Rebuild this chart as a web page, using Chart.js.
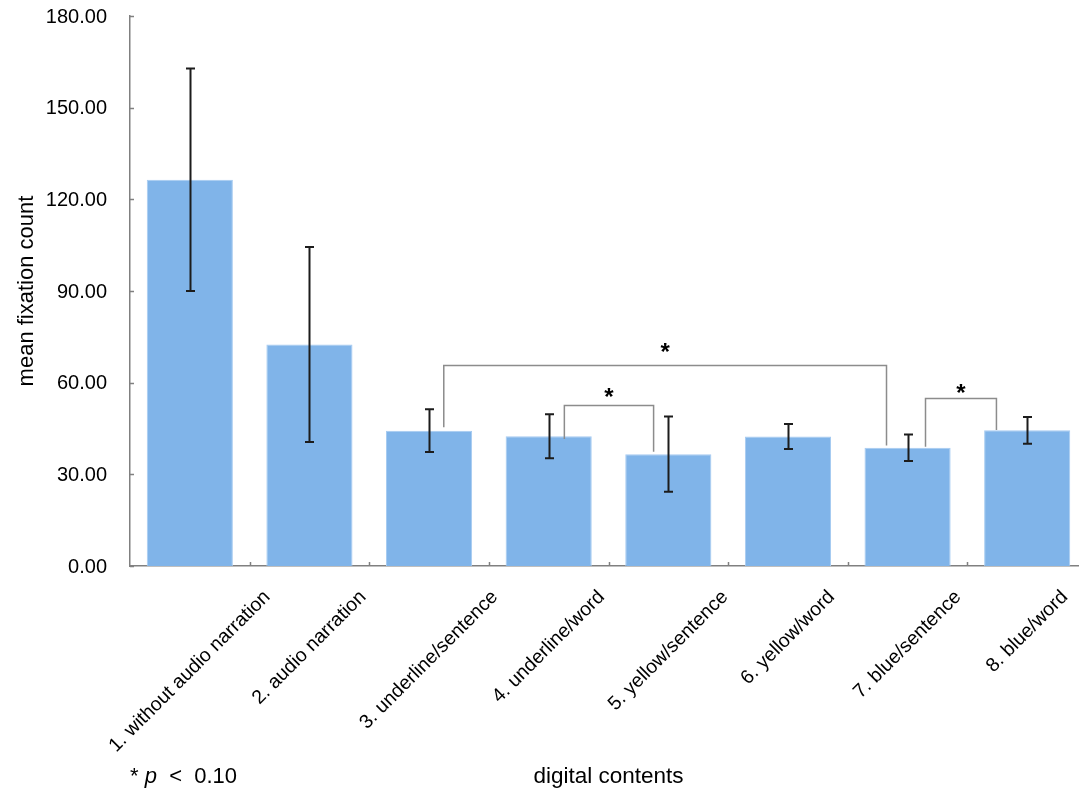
<!DOCTYPE html>
<html>
<head>
<meta charset="utf-8">
<script src="https://cdn.jsdelivr.net/npm/chart.js@4.4.0/dist/chart.umd.min.js"></script>
<style>
  html, body { margin: 0; padding: 0; background: #ffffff; overflow: hidden; }
  #wrap { position: relative; width: 1100px; height: 791px; }
</style>
</head>
<body>
<div id="wrap"><canvas id="chart"></canvas></div>
<script>
// Mean fixation count per digital content condition
const categories = [
  '1. without audio narration',
  '2. audio narration',
  '3. underline/sentence',
  '4. underline/word',
  '5. yellow/sentence',
  '6. yellow/word',
  '7. blue/sentence',
  '8. blue/word'
];
const meanFixations = [126.4, 72.5, 44.3, 42.5, 36.6, 42.4, 38.7, 44.4];
const errorMargins  = [36.4, 31.9, 7.0, 7.2, 12.3, 4.1, 4.3, 4.4];
const yTickValues   = [0, 30, 60, 90, 120, 150, 180];
const yTickLabels   = ['0.00', '30.00', '60.00', '90.00', '120.00', '150.00', '180.00'];

// Significance brackets: compared groups (0-based), bar level, leg end levels, star level
const bracketPairs      = [[2, 6], [3, 4], [6, 7]];
const bracketLevels     = [65.8, 52.8, 55.1];
const bracketLegEnds    = [[45.4, 39.4], [41.6, 37.4], [39.0, 44.5]];
const bracketStarLevels = [71.8, 57.1, 58.5];

const FONT = '"Liberation Sans", Arial, Helvetica, sans-serif';

const annotations = {
  id: 'annotations',
  afterDatasetsDraw(chart, args, opts) {
    const { ctx, scales: { x, y } } = chart;
    const catW = x.width / categories.length;
    ctx.save();

    // error bars
    ctx.strokeStyle = '#1c1c1c';
    ctx.lineWidth = 2;
    meanFixations.forEach((m, i) => {
      const cx = Math.round(x.getPixelForValue(i)) + 0.5;
      const yt = y.getPixelForValue(m + errorMargins[i]);
      const yb = y.getPixelForValue(m - errorMargins[i]);
      ctx.beginPath();
      ctx.moveTo(cx, yt); ctx.lineTo(cx, yb);
      ctx.moveTo(cx - opts.capHalf, yt); ctx.lineTo(cx + opts.capHalf, yt);
      ctx.moveTo(cx - opts.capHalf, yb); ctx.lineTo(cx + opts.capHalf, yb);
      ctx.stroke();
    });

    // significance brackets
    ctx.strokeStyle = '#8c8c8c';
    ctx.lineWidth = 1.5;
    bracketPairs.forEach((pair, k) => {
      const off = opts.legOffsets[k];
      const x1 = x.getPixelForValue(pair[0]) + off[0] * catW;
      const x2 = x.getPixelForValue(pair[1]) + off[1] * catW;
      const yl = Math.round(y.getPixelForValue(bracketLevels[k])) + 0.5;
      ctx.beginPath();
      ctx.moveTo(x1, y.getPixelForValue(bracketLegEnds[k][0]));
      ctx.lineTo(x1, yl);
      ctx.lineTo(x2, yl);
      ctx.lineTo(x2, y.getPixelForValue(bracketLegEnds[k][1]));
      ctx.stroke();

      ctx.fillStyle = '#000';
      ctx.font = 'bold 24px ' + FONT;
      ctx.textAlign = 'center';
      ctx.textBaseline = 'alphabetic';
      ctx.fillText('*', (x1 + x2) / 2, y.getPixelForValue(bracketStarLevels[k]) + 13.5);
    });
    ctx.restore();
  },
  afterDraw(chart, args, opts) {
    const { ctx, chartArea, scales: { x, y } } = chart;
    const catW = x.width / categories.length;
    ctx.save();

    // inward tick marks
    ctx.strokeStyle = '#808080';
    ctx.lineWidth = 1.5;
    ctx.beginPath();
    yTickValues.forEach(v => {
      const py = Math.round(y.getPixelForValue(v)) + 0.5;
      ctx.moveTo(chartArea.left, py); ctx.lineTo(chartArea.left + 4, py);
    });
    for (let i = 0; i < categories.length; i++) {
      const px = Math.round(x.getPixelForValue(i) + catW / 2) + 0.5;
      ctx.moveTo(px, chartArea.bottom); ctx.lineTo(px, chartArea.bottom - 4);
    }
    ctx.stroke();

    // value labels on the y axis
    ctx.fillStyle = '#000';
    ctx.font = '20px ' + FONT;
    ctx.textAlign = 'right';
    ctx.textBaseline = 'middle';
    yTickValues.forEach((v, i) => {
      ctx.fillText(yTickLabels[i], chartArea.left - 23, y.getPixelForValue(v) + 1);
    });

    // rotated category labels
    ctx.font = '19.5px ' + FONT;
    ctx.textAlign = 'right';
    ctx.textBaseline = 'middle';
    categories.forEach((lab, i) => {
      const cx = x.getPixelForValue(i);
      const L = ctx.measureText(lab).width;
      ctx.save();
      ctx.translate(cx + L / 2 * Math.SQRT1_2, opts.labelAnchorY);
      ctx.rotate(-Math.PI / 4);
      ctx.fillText(lab, 0, 0);
      ctx.restore();
    });

    // axis titles
    ctx.font = '22px ' + FONT;
    ctx.textAlign = 'center';
    ctx.textBaseline = 'middle';
    ctx.save();
    ctx.translate(27, (chartArea.top + chartArea.bottom) / 2);
    ctx.rotate(-Math.PI / 2);
    ctx.fillText('mean fixation count', 0, 0);
    ctx.restore();

    ctx.textBaseline = 'alphabetic';
    ctx.font = '22.5px ' + FONT;
    ctx.fillText('digital contents', (chartArea.left + chartArea.right) / 2, 783);

    // significance note
    ctx.textAlign = 'left';
    let nx = chartArea.left;
    const parts = [['* ', '22px '], ['p', 'italic 22px '], ['  <  0.10', '22px ']];
    parts.forEach(([t, f]) => {
      ctx.font = f + FONT;
      ctx.fillText(t, nx, 783);
      nx += ctx.measureText(t).width;
    });
    ctx.restore();
  }
};

new Chart(document.getElementById('chart'), {
  type: 'bar',
  data: {
    labels: categories,
    datasets: [{
      data: meanFixations,
      backgroundColor: '#80b4e9',
      borderColor: '#a6cbf1',
      borderWidth: 1,
      categoryPercentage: 1.0,
      barPercentage: 0.72
    }]
  },
  options: {
    responsive: true,
    maintainAspectRatio: false,
    animation: false,
    layout: { padding: { top: 16, right: 13, bottom: 0, left: 0 } },
    plugins: {
      legend: { display: false },
      tooltip: { enabled: false },
      annotations: {
        capHalf: 4.5,
        legOffsets: [[0.123, -0.176], [0.131, -0.123], [0.15, -0.257]],
        labelAnchorY: 594
      }
    },
    scales: {
      x: {
        grid: { display: false, drawTicks: false },
        border: { display: true, color: '#808080', width: 1.5 },
        ticks: { display: false },
        afterFit(scale) { scale.height = 225; }
      },
      y: {
        min: 0,
        max: 180,
        grid: { display: false, drawTicks: false },
        border: { display: true, color: '#808080', width: 1.5 },
        ticks: { display: false },
        afterFit(scale) { scale.width = 130; }
      }
    }
  },
  plugins: [annotations]
});
</script>
</body>
</html>
